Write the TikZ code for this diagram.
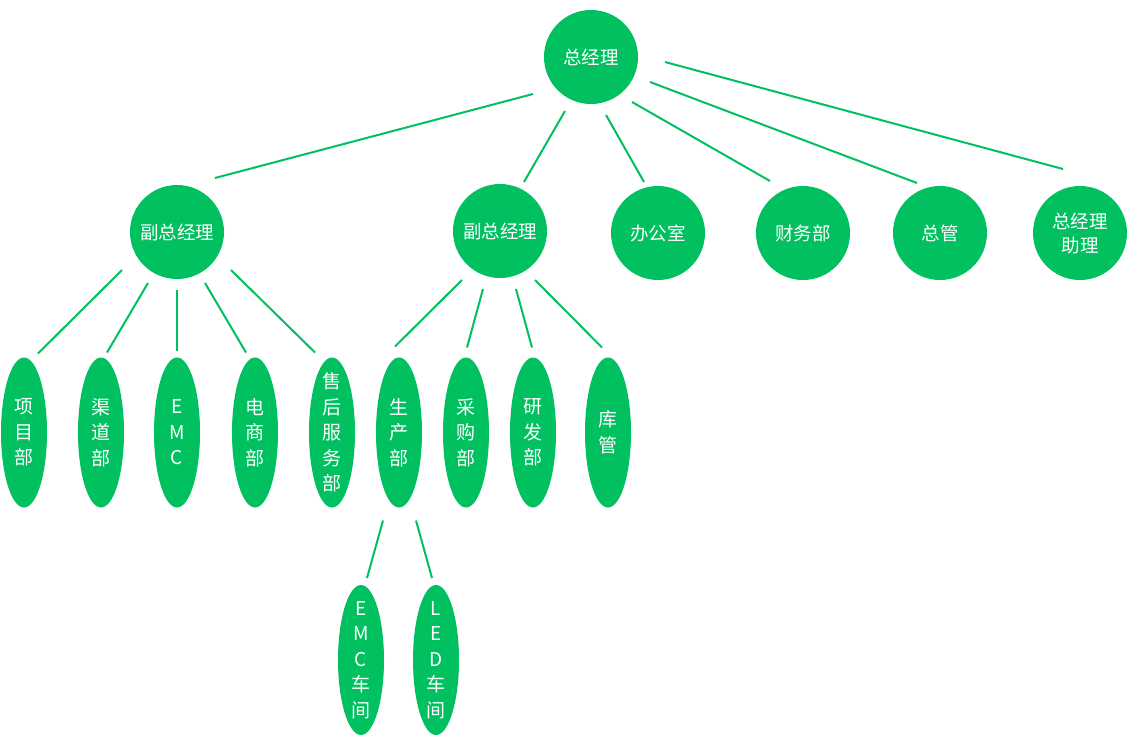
\documentclass[tikz,border=0pt]{standalone}
\usepackage{fontspec}
\newfontfamily\cjk{Noto Sans CJK SC}
\usetikzlibrary{shapes.geometric}
\definecolor{grn}{RGB}{0,192,96}
\tikzset{
  boss/.style={circle, fill=grn, text=white, minimum size=94pt, inner sep=0pt,
    align=center, font=\cjk\fontsize{18.5}{24}\selectfont},
  dept/.style={ellipse, fill=grn, text=white, minimum width=46pt, minimum height=150pt,
    inner xsep=0pt, inner ysep=-18pt, align=center, font=\cjk\fontsize{19}{25.5}\selectfont},
  link/.style={grn, line width=2pt},
}

\begin{document}
\begin{tikzpicture}[x=1pt, y=-1pt]
  \useasboundingbox (0,0) rectangle (1130,750);
  % top and second row
  \node[boss] (gm) at (591,57) {总经理};
  \node[boss] (vpA) at (177,232) {副总经理};
  \node[boss] (vpB) at (500,231) {副总经理};
  \node[boss] (office) at (658,233) {办公室};
  \node[boss] (finance) at (803,233) {财务部};
  \node[boss] (chief) at (940,233) {总管};
  \node[boss] (assist) at (1080,233) {总经理\\助理};
  % departments
  \node[dept] (project) at (24,432.5) {项\\目\\部};
  \node[dept] (channel) at (101,432.5) {渠\\道\\部};
  \node[dept] (emc) at (177,432.5) {E\\M\\C};
  \node[dept] (ecom) at (255,432.5) {电\\商\\部};
  \node[dept] (service) at (332,432.5) {售\\后\\服\\务\\部};
  \node[dept] (prod) at (399,432.5) {生\\产\\部};
  \node[dept] (buy) at (466,432.5) {采\\购\\部};
  \node[dept] (rnd) at (533,432.5) {研\\发\\部};
  \node[dept] (store) at (608,432.5) {库\\管};
  % workshops
  \node[dept] (emcShop) at (361,660) {E\\M\\C\\车\\间};
  \node[dept] (ledShop) at (436,660) {L\\E\\D\\车\\间};
  % links from the general manager
  \draw[link] ([shift={(-58,37)}]gm.center) -- ([shift={(38,-54)}]vpA.center);
  \draw[link] ([shift={(-26,54)}]gm.center) -- ([shift={(24,-49)}]vpB.center);
  \draw[link] ([shift={(15,58)}]gm.center) -- ([shift={(-14,-51)}]office.center);
  \draw[link] ([shift={(41,45)}]gm.center) -- ([shift={(-33,-52)}]finance.center);
  \draw[link] ([shift={(59,25)}]gm.center) -- ([shift={(-23,-50)}]chief.center);
  \draw[link] ([shift={(74,5)}]gm.center) -- ([shift={(-17,-64)}]assist.center);
  % links from the first deputy
  \draw[link] ([shift={(-55,38)}]vpA.center) -- ([shift={(14,-79)}]project.center);
  \draw[link] ([shift={(-29,51)}]vpA.center) -- ([shift={(6,-80)}]channel.center);
  \draw[link] ([shift={(0,58)}]vpA.center) -- ([shift={(0,-82)}]emc.center);
  \draw[link] ([shift={(28,51)}]vpA.center) -- ([shift={(-9,-80)}]ecom.center);
  \draw[link] ([shift={(54,38)}]vpA.center) -- ([shift={(-17,-80)}]service.center);
  % links from the second deputy
  \draw[link] ([shift={(-38,49)}]vpB.center) -- ([shift={(-4,-86)}]prod.center);
  \draw[link] ([shift={(-17,58)}]vpB.center) -- ([shift={(1,-85)}]buy.center);
  \draw[link] ([shift={(16,58)}]vpB.center) -- ([shift={(-1,-85)}]rnd.center);
  \draw[link] ([shift={(35,49)}]vpB.center) -- ([shift={(-6,-85)}]store.center);
  % workshops under production
  \draw[link] ([shift={(-16,88)}]prod.center) -- ([shift={(6,-82)}]emcShop.center);
  \draw[link] ([shift={(17,88)}]prod.center) -- ([shift={(-4,-82)}]ledShop.center);
\end{tikzpicture}
\end{document}
